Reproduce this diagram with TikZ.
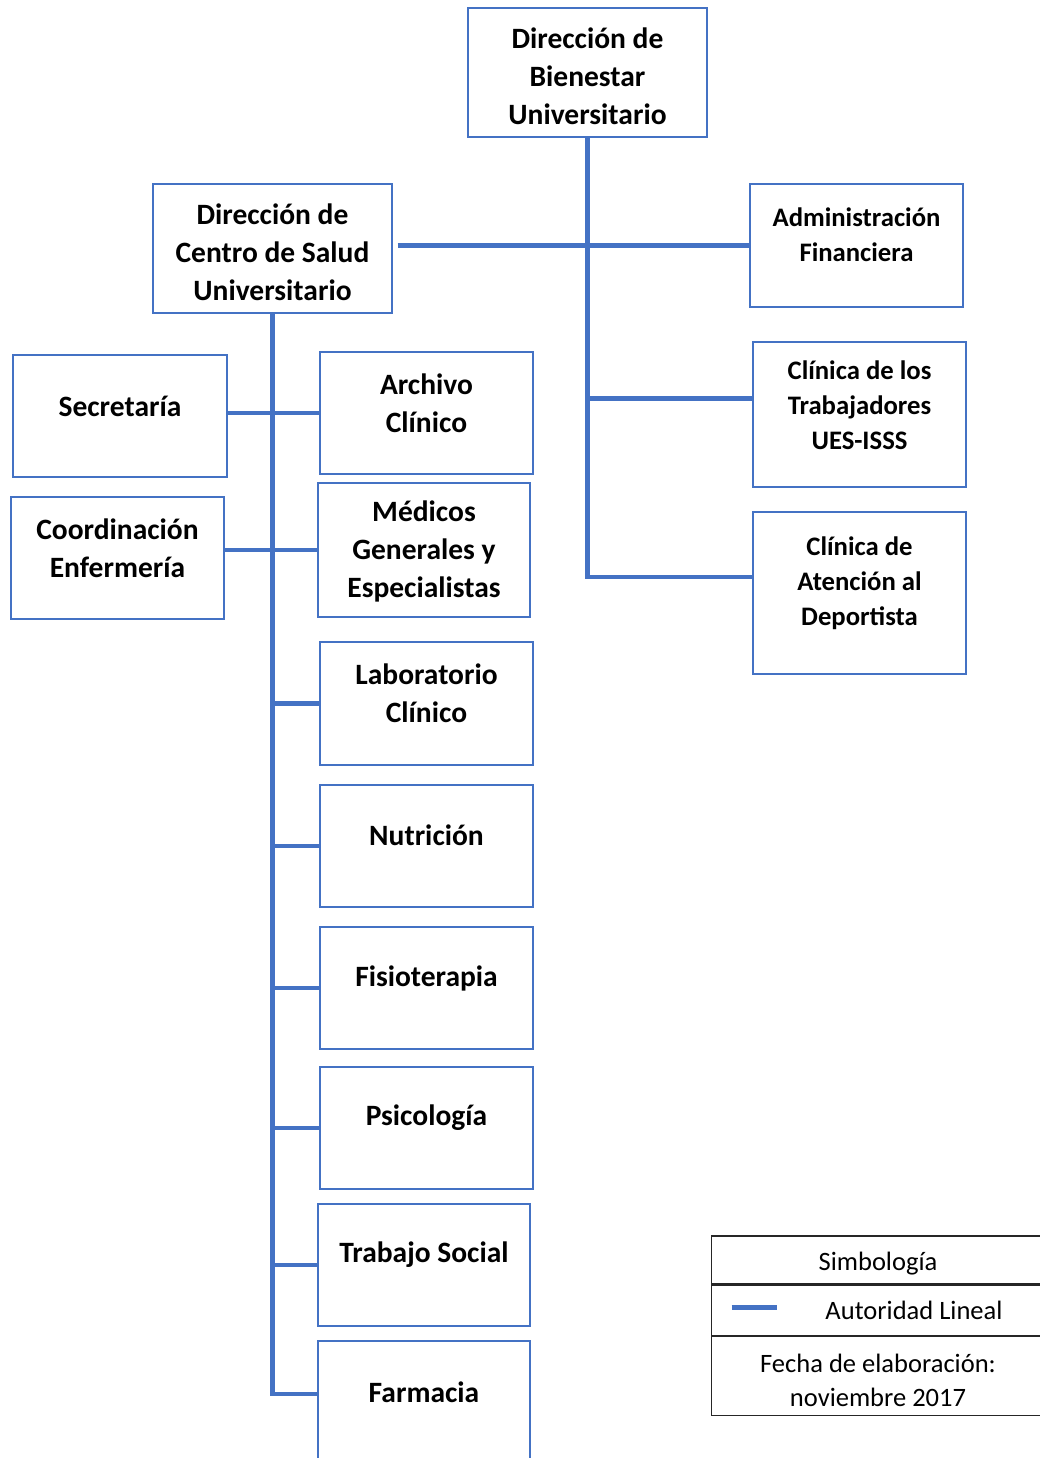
\documentclass[tikz,border=0pt]{standalone}
\usepackage{fontspec}
\setmainfont{Carlito}
\usetikzlibrary{positioning}
\definecolor{azul}{RGB}{68,114,196}
\begin{document}
\begin{tikzpicture}[x=0.02cm, y=-0.02cm]
  \tikzset{box/.style={rectangle,draw=azul,line width=0.8pt,minimum width=4.26cm,minimum height=2.44cm,inner sep=0pt},
           txt/.style={font=\bfseries\fontsize{16.8}{21.5}\selectfont,align=center},
           small/.style={font=\bfseries\fontsize{15.2}{19.8}\selectfont,align=center},
           conn/.style={draw=azul,line width=2.8pt},
           cell/.style={rectangle,draw=black!85,line width=0.6pt,minimum width=6.68cm,inner sep=0pt},
           leyenda/.style={font=\fontsize{15.1}{19.4}\selectfont,align=center}}
  \useasboundingbox (0,0) rectangle (1040,1458);

  % Direcciones
  \node[box, minimum width=4.78cm, minimum height=2.58cm, label={[txt,yshift=-0.08cm]center:Dirección de\\Bienestar\\Universitario}] (bienestar) at (587.5,72.5) {};
  \node[box, minimum width=4.78cm, minimum height=2.58cm, label={[txt,yshift=-0.08cm]center:Dirección de\\Centro de Salud\\Universitario}] (centro) at (272.5,248.5) {};

  % Lado derecho
  \node[box, minimum height=2.46cm, label={[small,yshift=0.22cm]center:Administración\\Financiera}] (admin) at (856.5,245.5) {};
  \node[box, minimum height=2.90cm, label={[small,yshift=0.19cm]center:Clínica de los\\Trabajadores\\UES-ISSS}] (trabajadores) at (859.5,414.5) {};
  \node[box, minimum height=3.24cm, label={[small,yshift=0.2cm]center:Clínica de\\Atención al\\Deportista}] (deportista) at (859.5,593) {};

  % Lado izquierdo
  \node[box, minimum width=4.28cm, label={[txt,yshift=0.2cm]center:Secretaría}] (secretaria) at (120,416) {};
  \node[box, label={[txt,yshift=0.2cm]center:Coordinación\\Enfermería}] (coord) at (117.5,558) {};
  \node[box, label={[txt,yshift=0.2cm]center:Archivo\\Clínico}] (archivo) at (426.5,413) {};
  \node[box, minimum width=4.24cm, minimum height=2.68cm, label={[txt,yshift=-0.03cm]center:Médicos\\Generales y\\Especialistas}] (medicos) at (424,550) {};
  \node[box, minimum height=2.46cm, label={[txt,yshift=0.2cm]center:Laboratorio\\Clínico}] (lab) at (426.5,703.5) {};
  \node[box, label={[txt,yshift=0.22cm]center:Nutrición}] (nutricion) at (426.5,846) {};
  \node[box, label={[txt,yshift=0.2cm]center:Fisioterapia}] (fisio) at (426.5,988) {};
  \node[box, label={[txt,yshift=0.2cm]center:Psicología}] (psico) at (426.5,1128) {};
  \node[box, minimum width=4.24cm, label={[txt,yshift=0.2cm]center:Trabajo Social}] (trabajo) at (424,1265) {};
  \node[box, minimum width=4.24cm, label={[txt,yshift=0.2cm]center:Farmacia}] (farmacia) at (424,1402) {};

  % Líneas de autoridad
  \draw[conn] (bienestar.south) |- ([yshift=0.32cm]deportista.west);
  \draw[conn] (bienestar.south) |- ([yshift=0.32cm]trabajadores.west);
  \draw[conn] ([xshift=0.1cm]centro.east |- admin.west) -- (admin.west);
  \draw[conn] (centro.south) |- ([yshift=0.16cm]farmacia.west);
  \foreach \n in {lab,nutricion,fisio,psico,trabajo}
    \draw[conn] (centro.south |- \n.west) -- (\n.west);
  \draw[conn] (secretaria.east |- archivo.west) -- (archivo.west);
  \draw[conn] (coord.east |- medicos.west) -- (medicos.west);

  % Simbologia
  \node[cell, minimum height=0.96cm, label={[leyenda,yshift=-0.07cm]center:Simbología}] (simb) at (878,1260) {};
  \node[cell, minimum height=1.0cm, below=0pt of simb, label={[leyenda,xshift=0.72cm]center:Autoridad Lineal}] (autoridad) {};
  \node[cell, minimum height=1.58cm, below=0pt of autoridad,
        path picture={\clip (path picture bounding box.north west) rectangle ([yshift=0.14cm]path picture bounding box.south east);
                      \node[leyenda, anchor=center] (fechatxt) at ([yshift=-0.1cm]path picture bounding box.center) {Fecha de elaboración:\\noviembre 2017};}] (fecha) {};
  \draw[conn] ([xshift=0.42cm,yshift=0.06cm]autoridad.west) -- ([xshift=1.32cm,yshift=0.06cm]autoridad.west);
\end{tikzpicture}
\end{document}
